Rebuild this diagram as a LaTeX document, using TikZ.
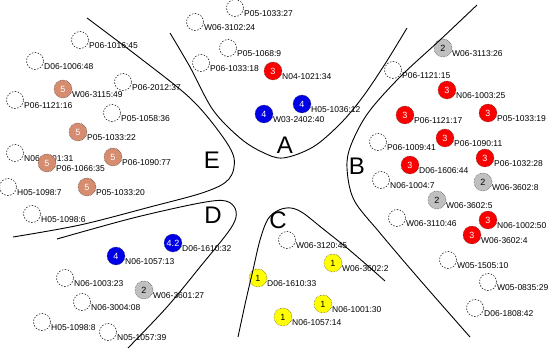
\documentclass[tikz,border=0pt]{standalone}
\usepackage{fontspec}
\setmainfont{Liberation Sans}
\pgfdeclarelayer{bg}
\pgfsetlayers{bg,main}
\definecolor{cred}{RGB}{250,0,0}
\definecolor{cblue}{RGB}{0,0,230}
\definecolor{corange}{RGB}{214,140,110}
\definecolor{cgray}{RGB}{192,192,192}
\definecolor{cyel}{RGB}{255,255,0}
\definecolor{edgec}{RGB}{170,170,170}
\tikzset{
 bub/.style={circle, minimum size=18pt, inner sep=0pt, draw=black!75, densely dotted, line width=0.5pt, font=\fontsize{9}{9}\selectfont},
 rednd/.style={bub, fill=cred, text=white},
 bluend/.style={bub, fill=cblue, text=white},
 orgnd/.style={bub, fill=corange, text=white},
 graynd/.style={bub, fill=cgray, text=black},
 yelnd/.style={bub, fill=cyel, text=black},
 emp/.style={circle, minimum size=17pt, inner sep=0pt, fill=white, draw=black, dash pattern=on 1.5pt off 1.5pt, line width=0.5pt},
 lbl/.style={anchor=west, inner sep=0pt, font=\fontsize{8.5}{8.5}\selectfont},
 edge/.style={draw=edgec, dash pattern=on 3pt off 2pt, line width=0.6pt},
 edgedot/.style={draw=edgec, dotted, line width=0.8pt},
 darkdot/.style={draw=black!70, densely dotted, line width=0.7pt},
 region/.style={draw=black, line width=0.9pt},
 letter/.style={font=\fontsize{24}{24}\selectfont, inner sep=0pt},
}
\newcommand{\cnode}[6]{\node[#4] (#1) at (#2,#3) {#5}; \node[lbl] (#1l) at ({#2+9},{#3+6}) {#6};}
\begin{document}
\begin{tikzpicture}[x=1pt,y=-1pt]
\useasboundingbox[fill=white] (0,0) rectangle (550,350);
% top cluster
\cnode{t1}{235}{8}{emp}{}{P05-1033:27}
\cnode{t2}{195}{22}{emp}{}{W06-3102:24}
\cnode{t3}{228}{48}{emp}{}{P05-1068:9}
\cnode{t4}{201}{63}{emp}{}{P06-1033:18}
\cnode{a1}{273}{71}{rednd}{3}{N04-1021:34}
\cnode{a2}{302}{104}{bluend}{4}{H05-1036:12}
\cnode{a3}{264}{114}{bluend}{4}{W03-2402:40}
% E cluster
\cnode{e1}{80}{40}{emp}{}{P06-1016:45}
\cnode{e2}{35}{61}{emp}{}{D06-1006:48}
\cnode{e3}{63}{89}{orgnd}{5}{W06-3115:49}
\cnode{e4}{123}{82}{emp}{}{P06-2012:37}
\cnode{e5}{15}{100}{emp}{}{P06-1121:16}
\cnode{e6}{112}{113}{emp}{}{P05-1058:36}
\cnode{e7}{78}{132}{orgnd}{5}{P05-1033:22}
\cnode{e8}{15}{153}{emp}{}{N06-1001:31}
\cnode{e9}{113}{157}{orgnd}{5}{P06-1090:77}
\cnode{e10}{47}{163}{orgnd}{5}{P06-1066:35}
\cnode{e11}{87}{187}{orgnd}{5}{P05-1033:20}
\cnode{e12}{8}{187}{emp}{}{H05-1098:7}
\cnode{e13}{32}{214}{emp}{}{H05-1098:6}
% D cluster
\cnode{d1}{116}{256}{bluend}{4}{N06-1057:13}
\cnode{d2}{173}{243}{bluend}{4.2}{D06-1610:32}
\cnode{d3}{65}{278}{emp}{}{N06-1003:23}
\cnode{d4}{144}{290}{graynd}{2}{W06-3601:27}
\cnode{d5}{82}{302}{emp}{}{N06-3004:08}
\cnode{d6}{42}{322}{emp}{}{H05-1098:8}
\cnode{d7}{108}{332}{emp}{}{N05-1057:39}
% C cluster
\cnode{c1}{287}{240}{emp}{}{W06-3120:45}
\cnode{c2}{333}{263}{yelnd}{1}{W06-3602:2}
\cnode{c3}{258}{278}{yelnd}{1}{D06-1610:33}
\cnode{c4}{323}{304}{yelnd}{1}{N06-1001:30}
\cnode{c5}{283}{317}{yelnd}{1}{N06-1057:14}
% B cluster
\cnode{b1}{443}{48}{graynd}{2}{W06-3113:26}
\cnode{b2}{393}{70}{emp}{}{P06-1121:15}
\cnode{b3}{447}{90}{rednd}{3}{N06-1003:25}
\cnode{b4}{405}{115}{rednd}{3}{P06-1121:17}
\cnode{b5}{488}{113}{rednd}{3}{P05-1033:19}
\cnode{b6}{378}{142}{emp}{}{P06-1009:41}
\cnode{b7}{445}{138}{rednd}{3}{P06-1090:11}
\cnode{b8}{485}{158}{rednd}{3}{P06-1032:28}
\cnode{b9}{410}{165}{rednd}{3}{D06-1606:44}
\cnode{b10}{381}{180}{emp}{}{N06-1004:7}
\cnode{b11}{483}{182}{graynd}{2}{W06-3602:8}
\cnode{b12}{437}{200}{graynd}{2}{W06-3602:5}
\cnode{b13}{397}{218}{emp}{}{W06-3110:46}
\cnode{b14}{488}{220}{rednd}{3}{N06-1002:50}
\cnode{b15}{472}{235}{rednd}{3}{W06-3602:4}
\cnode{b16}{448}{260}{emp}{}{W05-1505:10}
\cnode{b17}{488}{282}{emp}{}{W05-0835:29}
\cnode{b18}{475}{308}{emp}{}{D06-1808:42}
% letters
\node[letter] (A) at (285,145) {A};
\node[letter] (B) at (357,166) {B};
\node[letter] (C) at (278,220) {C};
\node[letter] (D) at (213,215) {D};
\node[letter] (E) at (212,160) {E};
\begin{pgfonlayer}{bg}
\foreach \p/\q in {t1/t3,t2/t4,t3/t4,t2/t3,t4/a1,t3/a1,a1/a2,
  e1/e3,e2/e3,e3/e4,e3/e5,e3/e7,e4/e6,e6/e7,e7/e8,e7/e9,e7/e10,e8/e10,e9/e10,e9/e11,e10/e11,e10/e12,e11/e13,e12/e13,
  b1/b2,b1/b3,b1/b4,b1/b5,b2/b4,b3/b4,b3/b7,b4/b6,b4/b9,b5/b7,b6/b9,b6/b10,b7/b9,b8/b11,b9/b10,b9/b12,b11/b12,b12/b13,b12/b15,b14/b15,b15/b16,b16/b18,b13/b16,
  d1/d3,d1/d4,d2/d4,d4/d5,d3/d5,d5/d6,d4/d7,d5/d7,
  c1/c3,c1/c2,c2/c4,c4/c5,c3/c4}
  \draw[edgedot] (\p) -- (\q);
\foreach \p/\q in {a1/b4,a1/b3,t4/b4,a1/c1,c1/c5,a2/b6,a3/b9,e9/b9,e7/b6,e11/b12,e11/c1,d4/c3,d2/c2,d2/b13,d4/b12,c2/b12,c4/b13,e4/a1,e2/a3,e13/d1,e11/d1,e9/b10,e10/b7,e6/a2,t4/b3,e4/b2,d3/c3,d5/c4,d1/c2,c3/b10,e11/b13,e1/t4,b3/b5,b4/b7,b5/b8,b7/b8,b11/b14,b2/b6}
  \draw[edge] (\p) -- (\q);
\draw[darkdot] (a2) -- (a3);
\draw[darkdot] (d1) -- (d2);
\draw[darkdot] (c3) -- (c5);
\end{pgfonlayer}
% region boundaries
\draw[region] plot[smooth, tension=0.55] coordinates {(87,18) (140,58) (190,98) (220,133) (234,158) (229,179) (205,192) (150,207) (80,225) (13,237)};
\draw[region] plot[smooth, tension=0.55] coordinates {(170,33) (190,67) (213,110) (240,138) (262,152) (283,158) (313,147) (340,124) (362,98) (385,64) (407,28)};
\draw[region] plot[smooth, tension=0.55] coordinates {(477,5) (440,40) (400,77) (368,113) (351,145) (347,168) (354,200) (380,233) (420,280) (470,337)};
\draw[region] plot[smooth, tension=0.55] coordinates {(238,337) (246,300) (253,270) (260,240) (268,219) (279,210) (291,208) (303,213) (322,228) (347,248) (368,266) (385,281)};
\draw[region] plot[smooth, tension=0.55] coordinates {(57,239) (133,218) (200,203) (226,201) (236,211) (231,228) (200,267) (167,307) (128,348)};
\end{tikzpicture}
\end{document}
